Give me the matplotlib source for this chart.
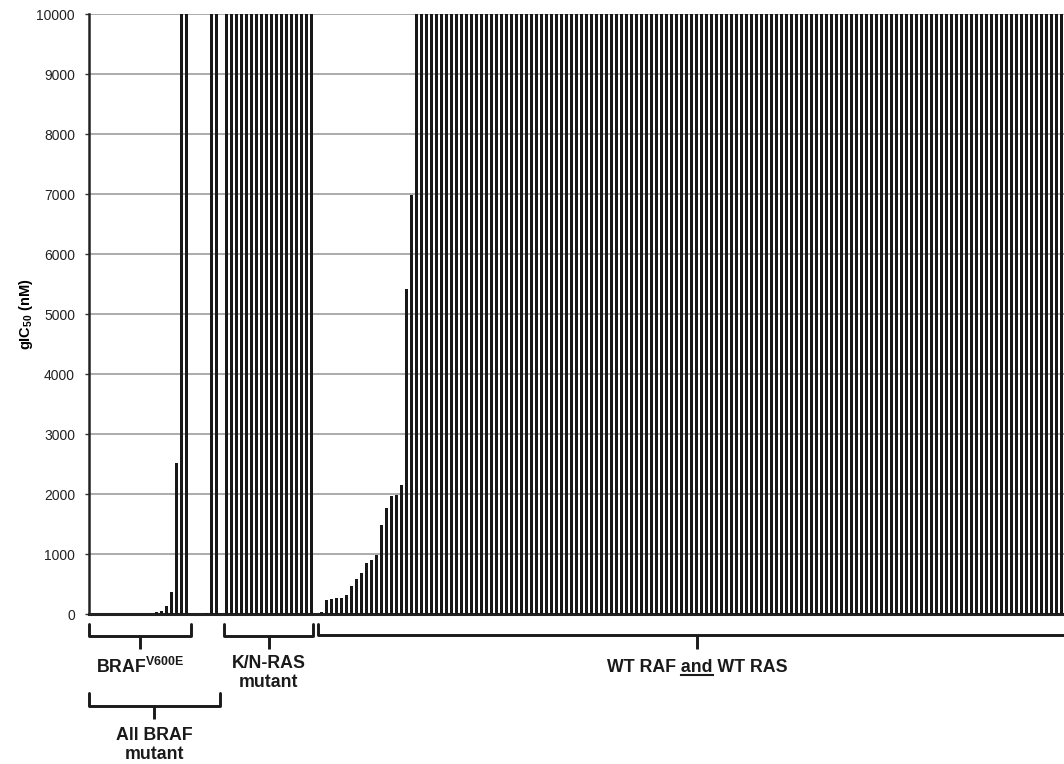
import matplotlib
matplotlib.use('Agg')
import matplotlib.pyplot as plt
import numpy as np
from matplotlib import transforms
from matplotlib.lines import Line2D

plt.rcParams['font.family'] = ['Liberation Sans', 'DejaVu Sans']
plt.rcParams['mathtext.fontset'] = 'custom'
plt.rcParams['mathtext.rm'] = 'Liberation Sans'
plt.rcParams['mathtext.bf'] = 'Liberation Sans:bold'

# gIC50 values (nM), capped at 10000, sorted within each group
braf_v600e = [0, 0, 0, 0, 0, 0, 0, 0, 0, 0, 0, 0, 0,
              28, 45, 133, 370, 2520, 10000, 10000]
braf_other = [0, 0, 0, 15, 10000, 10000]
ras_mutant = [10000] * 18
wt_sensitive = [30, 233, 245, 260, 260, 317, 467, 578, 678, 844, 900, 983,
                1483, 1761, 1972, 1983, 2150, 5411, 6983]
wt_resistant = [10000] * 130

yticks = list(range(0, 10001, 1000))

# blank slot between the groups
vals = braf_v600e + braf_other + [0] + ras_mutant + [0] + wt_sensitive + wt_resistant
x = np.arange(len(vals))

W, H = 1064, 764
fig = plt.figure(figsize=(W / 100, H / 100), dpi=100)
ax = fig.add_axes([89 / W, 1 - 614 / H, 1 - 89 / W, 600 / H])

ax.bar(x, vals, width=0.44, color='#181818', zorder=3)
ax.set_xlim(-0.5, 194.5)
ax.set_ylim(0, 10000)
ax.set_yticks(yticks)
ax.set_xticks([])
ax.yaxis.grid(True, color='#a5a5a5', lw=1.3, zorder=0)
ax.set_axisbelow(True)
for s in ['top', 'right']:
    ax.spines[s].set_visible(False)
ax.spines['left'].set_linewidth(1.8)
ax.spines['bottom'].set_linewidth(2.2)
ax.spines['left'].set_color('#222222')
ax.spines['bottom'].set_color('#222222')
ax.tick_params(axis='y', length=3, width=1, color='#333333',
               labelsize=10, labelcolor='#222222', pad=7)
ax.set_ylabel(r'gIC$_{\mathbf{50}}$ (nM)', fontweight='bold', fontsize=10.5)
ax.yaxis.set_label_coords((35 - 89) / 975, 0.5)

trans = transforms.blended_transform_factory(ax.transData, fig.transFigure)


def yf(p):
    return 1 - p / H


def bracket(x0, x1, xm, y_top, y_bar, y_stem):
    ax.plot([x0, x0, x1, x1], [yf(y_top), yf(y_bar), yf(y_bar), yf(y_top)],
            transform=trans, clip_on=False, color='#1a1a1a', lw=2.1,
            solid_joinstyle='round', solid_capstyle='round')
    ax.plot([xm, xm], [yf(y_bar), yf(y_stem)], transform=trans, clip_on=False,
            color='#1a1a1a', lw=2.1, solid_capstyle='butt')


lab = dict(transform=trans, ha='center', va='center', fontsize=12.8,
           fontweight='bold', color='#1a1a1a', linespacing=1.12)

# BRAF V600E
bracket(-0.5, 19.9, 9.7, 624, 636, 649)
ax.text(9.7, yf(667), r'BRAF$^{\mathbf{V600E}}$', **lab)

# all BRAF mutant
bracket(-0.5, 25.6, 12.55, 693, 706, 719)
ax.text(12.55, yf(745), 'All BRAF\nmutant', **lab)

# K/N-RAS mutant
bracket(26.5, 44.3, 35.4, 624, 636, 649)
ax.text(35.4, yf(673), 'K/N-RAS\nmutant', **lab)

# WT RAF and WT RAS
bracket(45.3, 196.9, 121.1, 624, 635, 649)
wt_txt = ax.text(121.1, yf(667), 'WT RAF and WT RAS', **lab)

fig.canvas.draw()
r = fig.canvas.get_renderer()
tmp = fig.text(0, 0, 'and', fontsize=12.8, fontweight='bold')
w = tmp.get_window_extent(r).width
tmp.remove()
bb = wt_txt.get_window_extent(r)
xc = (bb.x0 + bb.x1) / 2
fig.add_artist(Line2D([(xc - w / 2) / W, (xc + w / 2) / W], [yf(675), yf(675)],
                      transform=fig.transFigure, color='#1a1a1a', lw=1.5))

fig.savefig('out.png', dpi=100)
